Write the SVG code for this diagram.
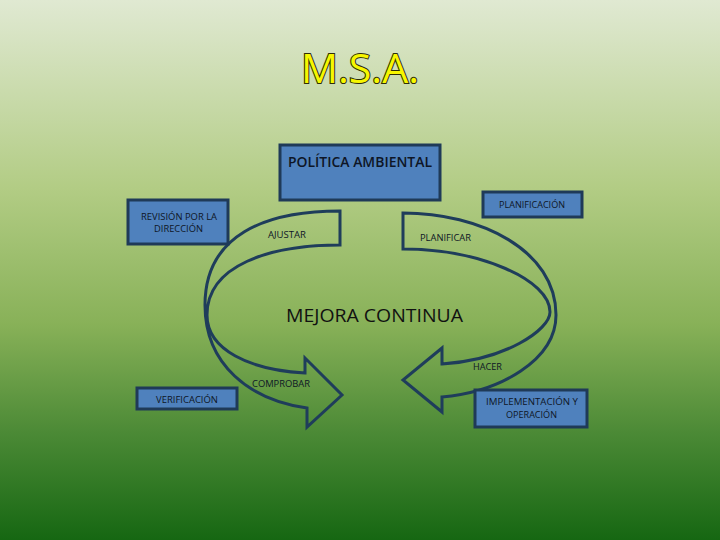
<svg xmlns="http://www.w3.org/2000/svg" width="720" height="540" viewBox="0 0 720 540">
<defs>
<linearGradient id="bg" x1="0" y1="0" x2="0" y2="1">
<stop offset="0" stop-color="#e0e9d2"/>
<stop offset="0.35" stop-color="#b2cc84"/>
<stop offset="0.6" stop-color="#88b158"/>
<stop offset="0.8" stop-color="#4c8a36"/>
<stop offset="1" stop-color="#166712"/>
</linearGradient>
<style>
.box{fill:#4f81bd;stroke:#1f3a58;stroke-width:3}
.t{font-family:"Open Sans","Liberation Sans",sans-serif;fill:#0e1626;font-size:9.5px}
.arr{fill:none;stroke:#1f3d5b;stroke-width:3;stroke-linejoin:miter}
.title{font-family:"Open Sans","Liberation Sans",sans-serif;font-size:40px;fill:#f7f700;stroke:#2e2e08;stroke-width:2;paint-order:stroke}
</style>
</defs>
<rect x="0" y="0" width="720" height="540" fill="url(#bg)"/>
<g id="title">
<text class="title" x="301" y="83" textLength="118" lengthAdjust="spacingAndGlyphs">M.S.A.</text>
</g>
<g id="connectors">
<path class="arr" d="M340,211 C265,211 205,235 205,305 C205,365 250,400 307,408 L307,427 L342,395 L305,358 L305,373 C250,370 207,350 207,315 C207,265 270,245 340,245 Z"/>
<path class="arr" d="M403,213 C480,213 556,250 556,315 C556,360 500,392 442,397 L442,412 L403,380 L442,348 L442,364 C505,360 550,330 550,312 C550,280 480,249 403,249 Z"/>
<text class="t" x="268" y="238" textLength="38" lengthAdjust="spacingAndGlyphs">AJUSTAR</text>
<text class="t" x="420" y="241" textLength="51" lengthAdjust="spacingAndGlyphs">PLANIFICAR</text>
<text class="t" x="252" y="387" textLength="58" lengthAdjust="spacingAndGlyphs">COMPROBAR</text>
<text class="t" x="473" y="370" textLength="29" lengthAdjust="spacingAndGlyphs">HACER</text>
</g>
<g id="mejora">
<text x="286" y="322" font-family="Open Sans, Liberation Sans, sans-serif" font-size="19" fill="#111" textLength="177" lengthAdjust="spacingAndGlyphs">MEJORA CONTINUA</text>
</g>
<g id="politica">
<rect class="box" x="280" y="145" width="160" height="55"/>
<text x="288" y="167" font-family="Open Sans, Liberation Sans, sans-serif" font-size="14.5" font-weight="600" fill="#0e1626" textLength="144" lengthAdjust="spacingAndGlyphs">POLÍTICA AMBIENTAL</text>
</g>
<g id="planificacion">
<rect class="box" x="483" y="192" width="99" height="25"/>
<text class="t" x="499" y="208" textLength="66" lengthAdjust="spacingAndGlyphs">PLANIFICACIÓN</text>
</g>
<g id="revision">
<rect class="box" x="128" y="200" width="100" height="44"/>
<text class="t" x="141" y="220" textLength="76" lengthAdjust="spacingAndGlyphs">REVISIÓN POR LA</text>
<text class="t" x="154" y="232" textLength="49" lengthAdjust="spacingAndGlyphs">DIRECCIÓN</text>
</g>
<g id="verificacion">
<rect class="box" x="137" y="388" width="100" height="21"/>
<text class="t" x="156" y="403" textLength="62" lengthAdjust="spacingAndGlyphs">VERIFICACIÓN</text>
</g>
<g id="implementacion">
<rect class="box" x="475" y="390" width="112" height="37"/>
<text class="t" x="486" y="405" textLength="92" lengthAdjust="spacingAndGlyphs">IMPLEMENTACIÓN Y</text>
<text class="t" x="506" y="418" textLength="51" lengthAdjust="spacingAndGlyphs">OPERACIÓN</text>
</g>
</svg>
